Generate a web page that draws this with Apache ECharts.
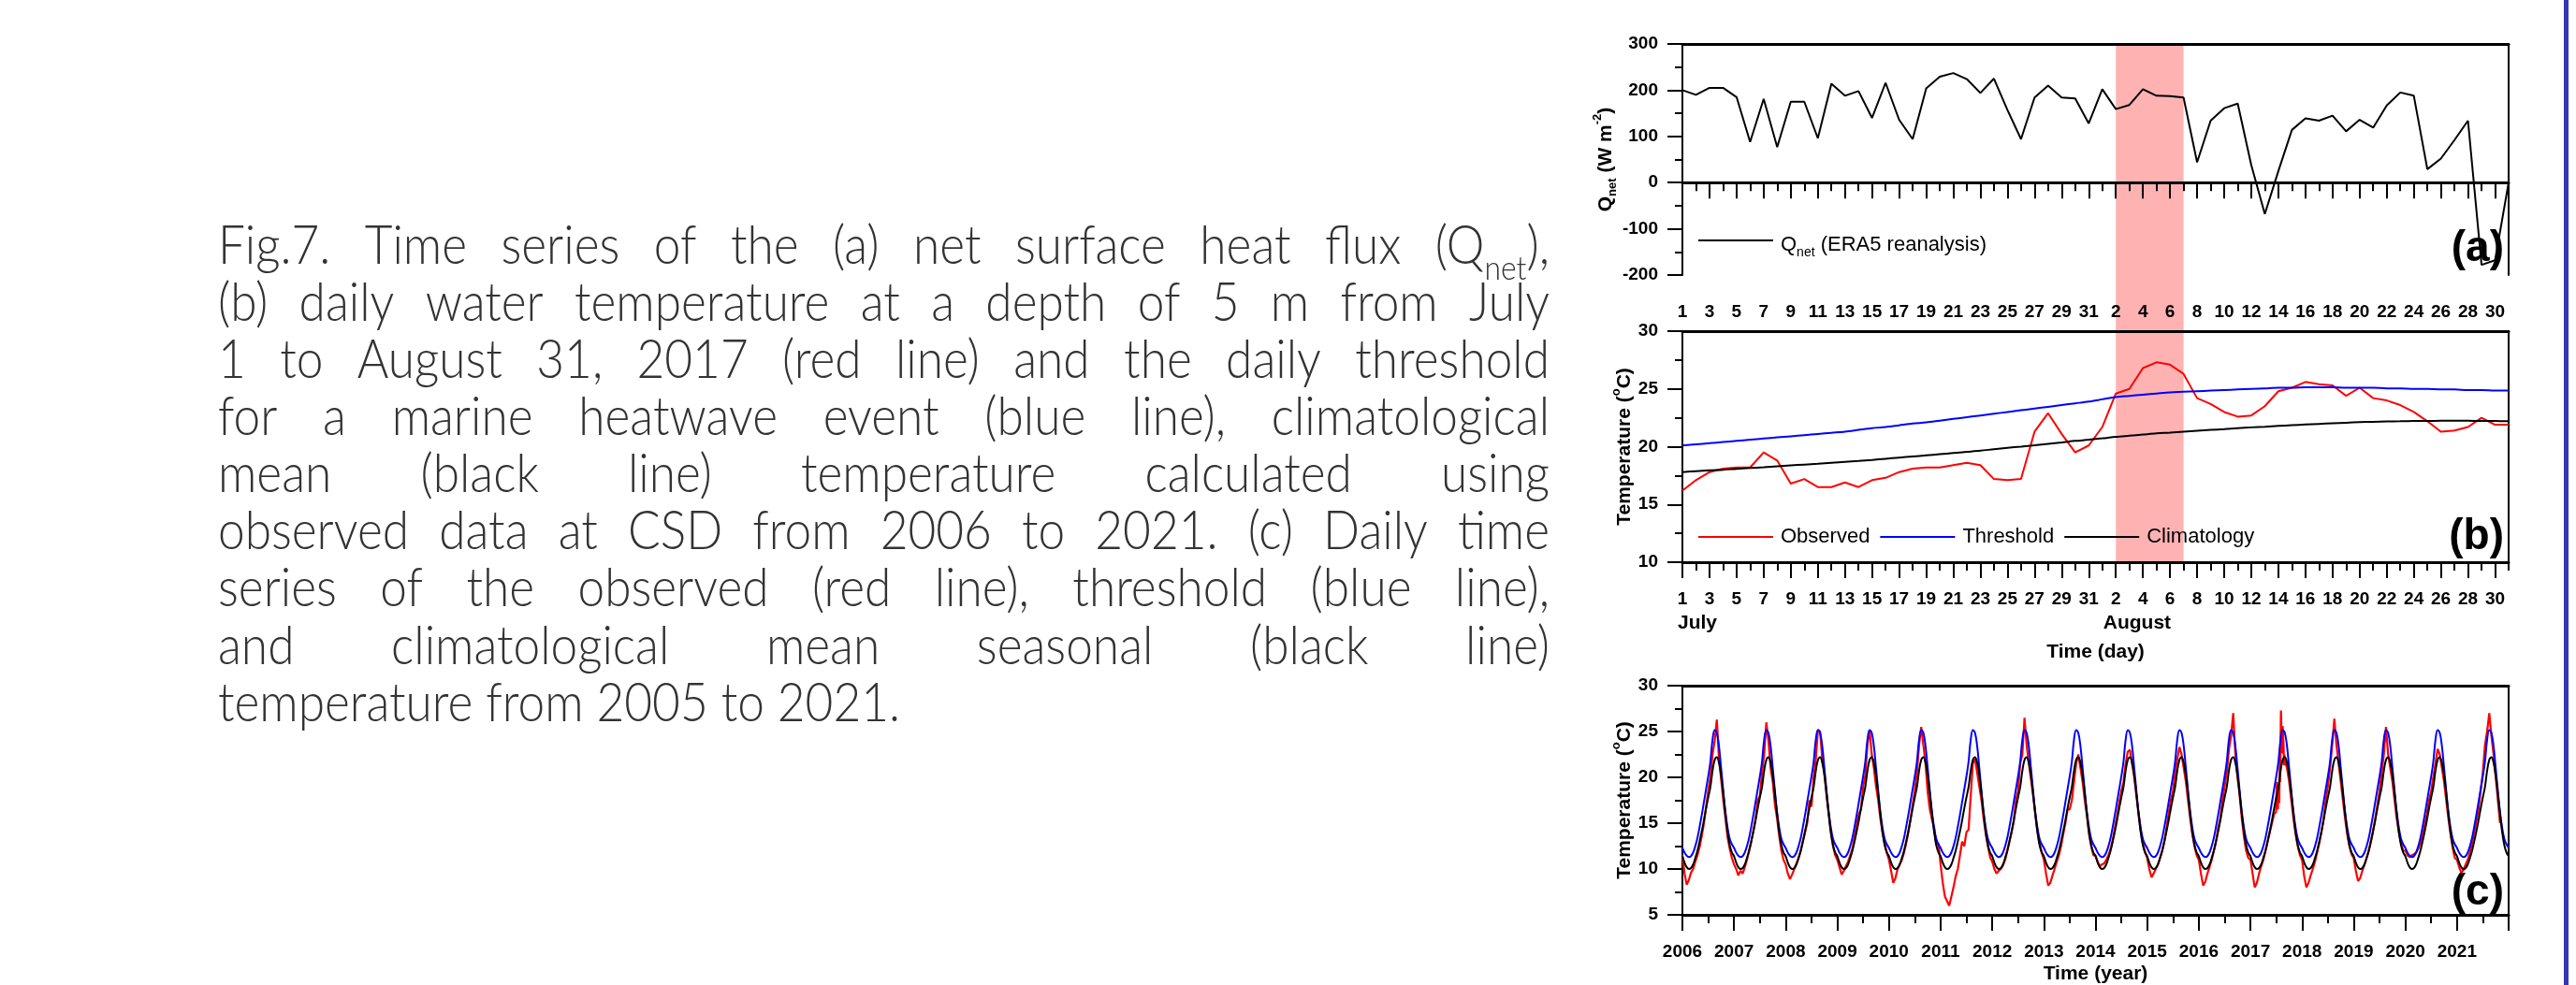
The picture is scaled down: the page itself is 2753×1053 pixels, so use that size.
<!DOCTYPE html>
<html><head><meta charset="utf-8">
<script src="https://cdn.jsdelivr.net/npm/echarts@6/dist/echarts.min.js"></script>
<style>html,body{margin:0;padding:0;background:#fff;}#c{width:2753px;height:1053px;}</style>
</head><body><div id="c"></div>
<script>
// ------------------ DATA ------------------
const dayCategories = ['Jul 1','Jul 2','Jul 3','Jul 4','Jul 5','Jul 6','Jul 7','Jul 8','Jul 9','Jul 10','Jul 11','Jul 12','Jul 13','Jul 14','Jul 15','Jul 16','Jul 17','Jul 18','Jul 19','Jul 20','Jul 21','Jul 22','Jul 23','Jul 24','Jul 25','Jul 26','Jul 27','Jul 28','Jul 29','Jul 30','Jul 31',
 'Aug 1','Aug 2','Aug 3','Aug 4','Aug 5','Aug 6','Aug 7','Aug 8','Aug 9','Aug 10','Aug 11','Aug 12','Aug 13','Aug 14','Aug 15','Aug 16','Aug 17','Aug 18','Aug 19','Aug 20','Aug 21','Aug 22','Aug 23','Aug 24','Aug 25','Aug 26','Aug 27','Aug 28','Aug 29','Aug 30','Aug 31'];
const heatwaveDays = ['Aug 2','Aug 7'];
const heatwaveYear = 2017;

// (a) net surface heat flux, W m-2, Jul 1 - Aug 31 2017
const qnet = [200,190,205,205,185,88,181,77,175,175,96,214,188,198,140,216,136,94,204,229,237,224,194,225,157,94,184,210,184,182,128,202,159,168,202,188,187,184,44,134,161,171,38,-68,25,114,139,134,145,111,136,119,167,195,188,29,52,92,134,-178,-168,0];

// (b) daily temperature at 5 m, 2017
const observedDaily = [16.2,17.1,17.8,18.1,18.2,18.2,19.5,18.8,16.8,17.2,16.5,16.5,16.9,16.5,17.1,17.3,17.8,18.1,18.2,18.2,18.4,18.6,18.4,17.2,17.1,17.2,21.3,22.9,21.1,19.5,20.1,21.7,24.6,25.0,26.8,27.3,27.1,26.3,24.2,23.7,23.0,22.6,22.7,23.5,24.8,25.1,25.6,25.4,25.3,24.4,25.1,24.2,24.0,23.6,23.0,22.2,21.3,21.4,21.7,22.5,21.9,21.9];
const thresholdDaily = [20.1,20.2,20.3,20.4,20.5,20.6,20.7,20.8,20.9,21.0,21.1,21.2,21.3,21.45,21.6,21.7,21.85,22.0,22.1,22.25,22.4,22.55,22.7,22.85,23.0,23.15,23.3,23.45,23.6,23.75,23.9,24.1,24.3,24.4,24.5,24.6,24.7,24.75,24.8,24.85,24.9,24.95,25.0,25.05,25.1,25.1,25.15,25.15,25.15,25.1,25.1,25.1,25.05,25.05,25.0,25.0,24.95,24.95,24.9,24.9,24.85,24.85];
const climatologyDaily = [17.8,17.88,17.95,18.0,18.08,18.15,18.22,18.3,18.38,18.45,18.52,18.6,18.68,18.76,18.85,18.95,19.05,19.15,19.25,19.35,19.45,19.55,19.65,19.78,19.9,20.0,20.12,20.25,20.37,20.5,20.6,20.72,20.85,20.95,21.05,21.15,21.22,21.3,21.38,21.45,21.52,21.6,21.67,21.73,21.8,21.86,21.92,21.97,22.02,22.07,22.12,22.15,22.18,22.2,22.22,22.23,22.24,22.24,22.24,22.23,22.22,22.2];

// (c) seasonal cycles, values on the 1st and 16th of each month (Jan 1 ... Dec 16)
const climatologyCycle = [11.4,10.7,10.2,10.0,10.1,10.5,11.2,12.0,13.0,14.1,15.3,16.6,17.8,18.95,20.7,21.9,22.2,21.6,20.2,18.2,16.0,14.0,12.6,11.8];
const thresholdCycle = [12.3,11.8,11.45,11.3,11.4,11.8,12.5,13.4,14.6,15.9,17.3,18.7,20.1,21.7,24.1,25.15,24.85,23.4,21.0,18.5,16.2,14.5,13.3,12.7];
const yearTicks = ['2006','2007','2008','2009','2010','2011','2012','2013','2014','2015','2016','2017','2018','2019','2020','2021'];

// (c) observed, values on the 1st and 16th of each month
const obs2006 = [11.5,9.5,8.3,8.8,9.6,10.0,10.8,11.5,12.4,13.6,15.0,16.8,18.5,20.0,22.5,24.0,26.3,22.0,19.8,17.5,15.5,13.5,12.2,11.2];
const obs2007 = [10.5,10.0,9.3,9.8,9.5,10.2,11.0,12.0,13.0,14.2,15.5,17.5,18.0,20.5,22.5,26.0,24.0,21.0,19.5,17.0,15.5,13.6,12.0,11.0];
const obs2008 = [10.5,9.5,8.9,9.4,10.0,10.6,11.2,12.0,13.0,14.0,15.0,17.5,16.8,20.0,22.0,25.2,25.0,22.0,20.5,18.0,16.0,14.0,12.5,11.5];
const obs2009 = [11.0,10.2,9.4,9.8,10.3,10.8,11.5,12.2,13.5,14.8,16.0,16.5,19.0,20.2,23.5,25.2,22.5,21.0,19.0,17.5,15.5,14.0,12.8,11.8];
const obs2010 = [11.0,9.8,8.5,9.0,10.0,10.5,11.0,11.8,12.8,14.0,15.5,17.0,18.5,20.5,23.5,25.5,23.5,21.5,18.4,16.5,15.4,14.5,12.6,12.8];
const obs2011 = [10.5,8.5,7.0,6.5,6.0,7.0,8.0,9.2,10.0,11.5,13.0,12.5,14.0,14.3,18.0,21.5,22.0,20.5,19.0,17.5,15.5,13.8,12.5,11.3];
const obs2012 = [10.8,10.0,9.5,9.8,10.0,10.4,11.0,12.0,13.0,14.0,15.2,17.5,18.5,21.5,22.5,26.5,23.5,21.5,19.8,18.0,16.0,14.2,12.8,11.8];
const obs2013 = [11.0,9.5,8.2,8.5,9.3,10.0,10.8,11.5,12.5,13.8,15.0,16.5,16.5,17.5,19.5,21.5,22.5,21.0,19.5,17.5,15.8,13.8,12.5,11.5];
const obs2014 = [11.5,10.8,10.3,10.5,10.6,11.0,11.5,12.2,13.2,14.5,15.8,17.2,18.5,19.5,21.5,22.8,23.0,21.5,20.0,18.0,16.0,14.2,12.8,11.9];
const obs2015 = [11.2,10.0,9.1,9.5,10.0,10.5,11.2,12.0,13.0,14.5,16.0,17.5,18.5,20.5,22.0,23.3,22.5,21.0,19.5,17.5,15.5,13.8,12.5,11.5];
const obs2016 = [11.0,9.5,8.2,8.6,9.5,10.2,11.0,12.0,13.0,14.5,15.5,17.5,19.0,20.5,23.0,24.5,27.0,22.5,20.0,18.0,15.5,13.5,12.0,11.2];
const obs2017 = [11.0,9.5,8.0,8.5,9.5,10.3,11.0,12.0,13.0,14.0,15.0,16.0,16.2,17.3,21.7,25.6,22.0,21.0,19.5,17.5,15.5,13.8,12.5,11.5];
const obs2018 = [11.0,9.2,8.0,8.5,9.3,10.0,10.8,11.8,12.8,14.0,15.5,17.5,19.0,21.0,23.5,26.4,23.5,21.5,19.5,17.5,15.5,13.8,12.5,11.6];
const obs2019 = [11.2,9.8,8.7,9.0,9.8,10.5,11.2,12.0,13.0,14.2,15.5,17.0,18.5,20.5,22.5,25.5,22.5,21.0,19.5,17.5,15.5,14.0,12.8,12.0];
const obs2020 = [12.0,11.5,11.3,11.5,11.6,11.8,12.2,12.8,13.6,14.8,16.0,17.5,18.5,20.0,21.5,23.1,22.5,21.0,19.5,17.5,15.5,13.8,12.3,11.2];
const obs2021 = [11.0,10.2,9.6,9.9,10.5,11.0,11.8,12.8,14.0,15.2,16.5,18.5,20.5,23.5,25.0,27.0,24.5,22.5,20.0,17.5,15.0];

const captionLines = [
 'Fig.7. Time series of the (a) net surface heat flux (Q_net),',
 '(b) daily water temperature at a depth of 5 m from July',
 '1 to August 31, 2017 (red line) and the daily threshold',
 'for a marine heatwave event (blue line), climatological',
 'mean (black line) temperature calculated using',
 'observed data at CSD from 2006 to 2021. (c) Daily time',
 'series of the observed (red line), threshold (blue line),',
 'and climatological mean seasonal (black line)',
 'temperature from 2005 to 2021.'
];

// ------------------ BUILD ------------------
const obsByYear = [obs2006,obs2007,obs2008,obs2009,obs2010,obs2011,obs2012,obs2013,obs2014,obs2015,obs2016,obs2017,obs2018,obs2019,obs2020,obs2021];
const firstYear = +yearTicks[0];
const lastYear = +yearTicks[yearTicks.length-1] + 1;
const obsC = [];
obsByYear.forEach((arr, yi) => {
  const yr = firstYear + yi;
  arr.forEach((v, k) => {
    if (yr === heatwaveYear && k >= 12 && k < 16) {
      if (k === 12) observedDaily.forEach((d, i) => obsC.push([yr + (181 + i) / 365, d]));
      return;
    }
    obsC.push([yr + k / 24, v]);
  });
});
const climC = [], threshC = [];
for (let y = firstYear; y < lastYear; y++) {
  climatologyCycle.forEach((v, k) => climC.push([y + k / 24, v]));
  thresholdCycle.forEach((v, k) => threshC.push([y + k / 24, v]));
}
climC.push([lastYear, climatologyCycle[0]]);
threshC.push([lastYear, thresholdCycle[0]]);

const FONT = 'Arial, "Liberation Sans", Helvetica, sans-serif';
const gridA = {left:1798, width:883, top:47, height:247};
const gridB = {left:1798, width:883, top:354, height:247};
const gridC = {left:1798, width:883, top:733, height:245};
const tickLabel = {fontFamily:FONT, fontWeight:'bold', fontSize:19, color:'#000'};
const blk = {color:'#000'};

function richName(size){
  return {
    b:{fontFamily:FONT, fontWeight:'bold', fontSize:size, lineHeight:size, color:'#000', verticalAlign:'top', padding:[6,0,0,0]},
    sub:{fontFamily:FONT, fontWeight:'bold', fontSize:Math.round(size*0.62), lineHeight:Math.round(size*0.62), color:'#000', verticalAlign:'top', padding:[Math.round(size*0.8),0,0,0]},
    sup:{fontFamily:FONT, fontWeight:'bold', fontSize:Math.round(size*0.62), lineHeight:Math.round(size*0.62), color:'#000', verticalAlign:'top', padding:[1,0,0,0]}
  };
}

function dayAxes(gi, withName){
  return [
    {type:'category', gridIndex:gi, data:dayCategories, boundaryGap:false, position:'bottom',
     axisLine:{lineStyle:{color:'#000', width:3}},
     axisTick:{interval:0, length:9, lineStyle:{width:2, color:'#000'}},
     axisLabel:Object.assign({interval:1, margin:30, formatter:v => v.split(' ')[1]}, tickLabel),
     splitLine:{show:false},
     name: withName ? 'Time (day)' : '', nameLocation:'middle', nameGap:86,
     nameTextStyle:{fontFamily:FONT, fontWeight:'bold', fontSize:21, color:'#000'}},
    {type:'category', gridIndex:gi, data:dayCategories, boundaryGap:false, position:'bottom',
     axisLine:{show:false}, axisTick:{interval:1, length:17, lineStyle:{width:2, color:'#000'}},
     axisLabel:{show:false}, splitLine:{show:false}},
    {type:'category', gridIndex:gi, data:dayCategories, boundaryGap:false, position:'top',
     axisLine:{lineStyle:{color:'#000', width:3}}, axisTick:{show:false}, axisLabel:{show:false}, splitLine:{show:false}}
  ];
}
function yAxes(gi, min, max, interval, name, gap){
  return [
    {type:'value', gridIndex:gi, min, max, interval, position:'left',
     axisLine:{show:true, lineStyle:{color:'#000', width:2}},
     axisTick:{show:true, length:16, lineStyle:{width:2, color:'#000'}},
     minorTick:{show:true, splitNumber:2, length:8, lineStyle:{width:2, color:'#000'}},
     splitLine:{show:false}, minorSplitLine:{show:false},
     axisLabel:Object.assign({margin:26}, tickLabel),
     name, nameLocation:'middle', nameGap:gap, nameRotate:90,
     nameTextStyle:{rich:richName(21)}},
    {type:'value', gridIndex:gi, min, max, interval, position:'right',
     axisLine:{show:true, lineStyle:{color:'#000', width:2}}, axisTick:{show:false},
     axisLabel:{show:false}, splitLine:{show:false}}
  ];
}

const xAxes = [].concat(dayAxes(0,false), dayAxes(1,true), [
  {type:'value', gridIndex:2, min:firstYear, max:lastYear, interval:1, position:'bottom',
   axisLine:{lineStyle:{color:'#000', width:3}},
   axisTick:{show:true, length:17, lineStyle:{width:2, color:'#000'}},
   minorTick:{show:true, splitNumber:2, length:9, lineStyle:{width:2, color:'#000'}},
   splitLine:{show:false}, minorSplitLine:{show:false},
   axisLabel:Object.assign({margin:30, formatter:v => (yearTicks.indexOf(String(v)) >= 0 ? String(v) : '')}, tickLabel),
   name:'Time (year)', nameLocation:'middle', nameGap:53,
   nameTextStyle:{fontFamily:FONT, fontWeight:'bold', fontSize:21, color:'#000'}},
  {type:'value', gridIndex:2, min:firstYear, max:lastYear, position:'top',
   axisLine:{lineStyle:{color:'#000', width:3}}, axisTick:{show:false}, axisLabel:{show:false}, splitLine:{show:false}}
]);
const yAxesAll = [].concat(
  yAxes(0, -200, 300, 100, '{b|Q}{sub|net}{b| (W m}{sup|-2}{b|)}', 75),
  yAxes(1, 10, 30, 5, '{b|Temperature (}{sup|o}{b|C)}', 52),
  yAxes(2, 5, 30, 5, '{b|Temperature (}{sup|o}{b|C)}', 52)
);

const legendText = {fontFamily:FONT, fontSize:22, color:'#000'};
const option = {
  animation:false,
  backgroundColor:'#ffffff',
  grid:[gridA, gridB, gridC].map(g => Object.assign({show:false, containLabel:false}, g)),
  xAxis:xAxes,
  yAxis:yAxesAll,
  legend:[
    {data:['Qnet'], left:1815, top:246, icon:'rect', itemWidth:80, itemHeight:2, padding:0,
     formatter:() => '{r|Q}{s|net}{r| (ERA5 reanalysis)}',
     textStyle:Object.assign({}, legendText, {padding:[0,0,0,3], rich:{
       r:{fontFamily:FONT, fontSize:22, lineHeight:22, color:'#000', verticalAlign:'top', padding:[5,0,0,0]},
       s:{fontFamily:FONT, fontSize:14, lineHeight:14, color:'#000', verticalAlign:'top', padding:[17,0,0,0]}}})},
    {data:['Observed','Threshold','Climatology'], left:1815, top:563, icon:'rect', itemWidth:80, itemHeight:2, itemGap:11, padding:0,
     textStyle:Object.assign({}, legendText, {padding:[0,0,0,3]})}
  ],
  series:[
    {name:'Qnet', type:'line', xAxisIndex:0, yAxisIndex:0, data:qnet, symbol:'none', lineStyle:{color:'#000', width:2}, itemStyle:blk, z:3},
    {name:'Observed', type:'line', xAxisIndex:3, yAxisIndex:2, data:observedDaily, symbol:'none', lineStyle:{color:'#ff0000', width:2}, itemStyle:{color:'#ff0000'}, z:3},
    {name:'Threshold', type:'line', xAxisIndex:3, yAxisIndex:2, data:thresholdDaily, symbol:'none', smooth:0.3, lineStyle:{color:'#0000ff', width:2}, itemStyle:{color:'#0000ff'}, z:3},
    {name:'Climatology', type:'line', xAxisIndex:3, yAxisIndex:2, data:climatologyDaily, symbol:'none', smooth:0.3, lineStyle:{color:'#000', width:2}, itemStyle:blk, z:3},
    {name:'Observed', type:'line', xAxisIndex:6, yAxisIndex:4, data:obsC, symbol:'none', lineStyle:{color:'#ff0000', width:2.2}, itemStyle:{color:'#ff0000'}, z:3},
    {name:'Threshold', type:'line', xAxisIndex:6, yAxisIndex:4, data:threshC, symbol:'none', smooth:0.4, lineStyle:{color:'#0000ff', width:2}, itemStyle:{color:'#0000ff'}, z:4},
    {name:'Climatology', type:'line', xAxisIndex:6, yAxisIndex:4, data:climC, symbol:'none', smooth:0.4, lineStyle:{color:'#000', width:2}, itemStyle:blk, z:4}
  ]
};

const chart = echarts.init(document.getElementById('c'), null, {renderer:'canvas', width:2753, height:1053});
chart.setOption(option);

// ------------------ GRAPHICS (band, labels, caption) ------------------
const gfx = [];
const bx0 = chart.convertToPixel({xAxisIndex:0}, dayCategories.indexOf(heatwaveDays[0]));
const bx1 = chart.convertToPixel({xAxisIndex:0}, dayCategories.indexOf(heatwaveDays[1]));
gfx.push({type:'rect', z:-10, silent:true,
  shape:{x:bx0, y:gridA.top, width:bx1 - bx0, height:gridB.top + gridB.height - gridA.top},
  style:{fill:'rgba(255,0,0,0.3)'}});

function txt(text, x, y, font, align, valign, fill, sx){
  return {type:'text', silent:true, z:10, x, y, scaleX: sx || 1, scaleY: 1,
    style:{text, x:0, y:0, font, fill:fill || '#000',
    align, textAlign:align, verticalAlign:valign, textVerticalAlign:valign}};
}
const letterFont = 'bold 46px ' + FONT;
const rx = gridA.left + gridA.width - 5;
gfx.push(txt('(a)', rx, 266, letterFont, 'right', 'middle'));
gfx.push(txt('(b)', rx, 574, letterFont, 'right', 'middle'));
gfx.push(txt('(c)', rx, 954, letterFont, 'right', 'middle'));

const bBottom = gridB.top + gridB.height;
const julyX = chart.convertToPixel({xAxisIndex:3}, 0);
const augX = chart.convertToPixel({xAxisIndex:3}, dayCategories.indexOf('Aug 1'));
gfx.push(txt('July', julyX - 5, bBottom + 65, 'bold 21px ' + FONT, 'left', 'middle'));
gfx.push(txt('August', augX + 1, bBottom + 65, 'bold 21px ' + FONT, 'left', 'middle'));

// right-edge blue rule
gfx.push({type:'rect', silent:true, shape:{x:2740, y:0, width:5, height:1053}, style:{fill:'#3535b5'}});

// caption, justified
const capFam = 'Lato, "Noto Sans", "DejaVu Sans", sans-serif';
const capW = 300;
const capColor = '#333333';
const F = 57;
const capLeft = 233, capRight = 1656, capBase = 284, capStep = 61.1;
const lastLineWidth = 729;
const mctx = document.createElement('canvas').getContext('2d');
function capFont(size){ return capW + ' ' + size + 'px ' + capFam; }
function measure(text, size){ mctx.font = capFont(size); return mctx.measureText(text).width; }
function splitSub(w){ return w.match(/^(.*)_([a-z]+)(.*)$/); }
function wordWidth(w, size){
  if (w.indexOf('_') >= 0) {
    const m = splitSub(w);
    return measure(m[1], size) + measure(m[2], size*0.62) + measure(m[3], size);
  }
  return measure(w, size);
}
const lineW = capRight - capLeft;
const lastLine = captionLines[captionLines.length - 1];
let SX = lastLineWidth / measure(lastLine, F);
captionLines.forEach((line, li) => {
  const words = line.split(' ');
  const last = li === captionLines.length - 1;
  let sx = SX;
  let widths = words.map(w => wordWidth(w, F) * sx);
  let sum = widths.reduce((a, b) => a + b, 0);
  const minGap = measure(' ', F) * sx * 0.8;
  if (!last && sum + minGap * (words.length - 1) > lineW) {
    const k = (lineW - minGap * (words.length - 1)) / sum;
    sx *= k; widths = widths.map(w => w * k); sum *= k;
  }
  const gap = last ? measure(' ', F) * sx : (lineW - sum) / (words.length - 1);
  const yMid = capBase + li * capStep - 0.36 * F;
  let x = capLeft;
  words.forEach((w, wi) => {
    if (w.indexOf('_') >= 0) {
      const m = splitSub(w);
      gfx.push(txt(m[1], x, yMid, capFont(F), 'left', 'middle', capColor, sx));
      let xx = x + measure(m[1], F) * sx;
      gfx.push(txt(m[2], xx, yMid + 0.42 * F, capFont(F * 0.62), 'left', 'middle', capColor, sx));
      xx += measure(m[2], F * 0.62) * sx;
      gfx.push(txt(m[3], xx, yMid, capFont(F), 'left', 'middle', capColor, sx));
    } else {
      gfx.push(txt(w, x, yMid, capFont(F), 'left', 'middle', capColor, sx));
    }
    x += widths[wi] + gap;
  });
});

chart.setOption({graphic:{elements:gfx}});
</script>
</body></html>
